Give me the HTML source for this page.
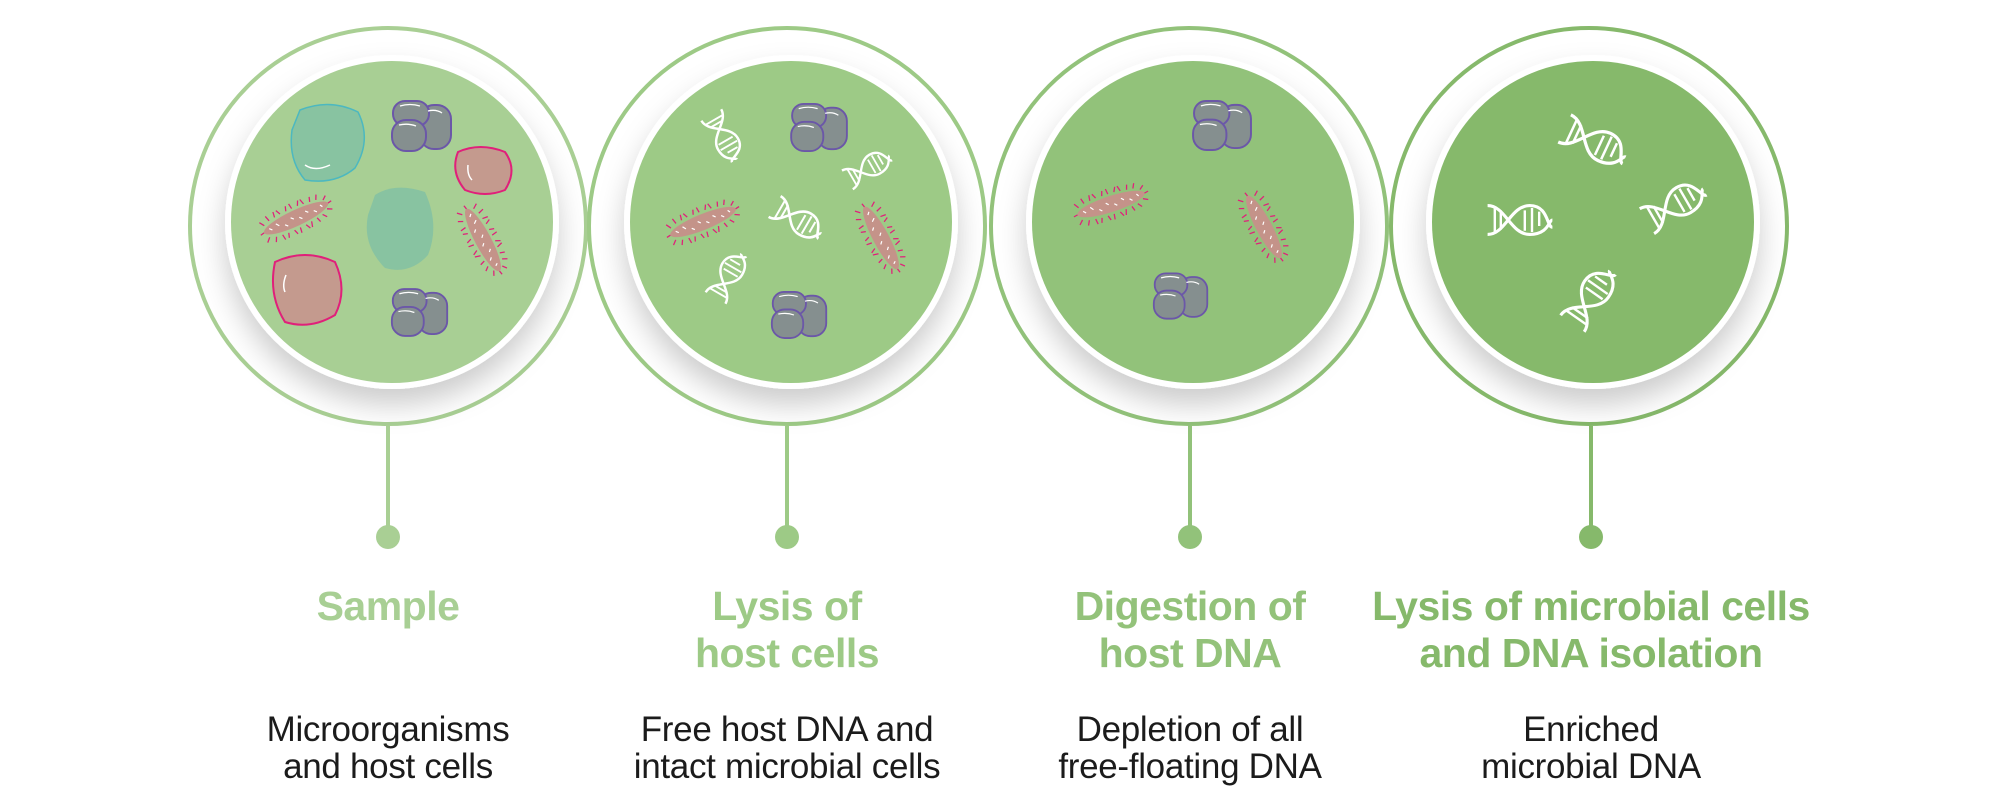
<!DOCTYPE html>
<html><head><meta charset="utf-8"><style>
html,body{margin:0;padding:0;background:#fff;width:2000px;height:800px;overflow:hidden}
.t{position:absolute;width:560px;text-align:center;font-family:"Liberation Sans",sans-serif;}
.h{font-weight:bold;font-size:41px;line-height:47px;top:583px;letter-spacing:-0.5px}
.d{font-size:35px;line-height:37px;top:711px;color:#1b1b1b;letter-spacing:-0.3px}
</style></head><body>
<svg width="2000" height="800" viewBox="0 0 2000 800" style="position:absolute;left:0;top:0">
<defs>
<filter id="sh" x="-30%" y="-30%" width="160%" height="170%"><feDropShadow dx="0" dy="16" stdDeviation="14" flood-color="#000" flood-opacity="0.2"/></filter>
<symbol id="gc" viewBox="0 0 64 54">
<rect x="30" y="6" width="31" height="44" rx="14" fill="#858f8f" stroke="#6b57a8" stroke-width="2"/>
<rect x="3" y="2" width="36" height="25" rx="12" fill="#858f8f" stroke="#6b57a8" stroke-width="2"/>
<rect x="2" y="21" width="34" height="31" rx="14" fill="#858f8f" stroke="#6b57a8" stroke-width="2"/>
<path d="M10 7 Q20 4 30 7 M9 26 Q18 24 26 27 M38 12 Q46 10 52 14" stroke="#fff" stroke-width="1.3" fill="none"/>
</symbol>
<symbol id="rod" viewBox="0 0 100 40">
<ellipse cx="50" cy="20" rx="44" ry="10" fill="#c49389"/>
<path d="M10 12l-4-6M18 9l-2-7M26 8l1-7M34 7l-3-6M42 7l2-6M50 7l-1-7M58 7l3-6M66 8l-2-7M74 9l2-6M82 10l3-6M90 14l5-4M10 28l-5 5M18 31l-3 6M26 32l1 7M34 33l-2 6M42 33l2 6M50 33l-1 7M58 33l3 6M66 32l-2 7M74 31l2 6M82 30l4 5M90 26l6 3M6 20l-5 1M94 20l5-1" stroke="#e0207a" stroke-width="1.6" fill="none"/>
<path d="M14 18l3 3M24 16l3 4M34 22l3 3M44 17l3 3M54 21l3 3M64 17l3 3M74 21l3 3M84 18l2 3" stroke="#fff" stroke-width="1.5"/>
</symbol>
<symbol id="dna" viewBox="0 0 60 40">
<path d="M3 8 C18 8 22 32 38 32 S54 20 57 20 M3 32 C18 32 22 8 38 8 S52 26 57 26" stroke="#fff" stroke-width="2.6" fill="none"/>
<path d="M9 10v20M14 12v16M34 12v17M40 10v20M46 13v12" stroke="#fff" stroke-width="2"/>
</symbol>
</defs>
<g>
<circle cx="388" cy="226" r="198" fill="#fff" stroke="#a9cf94" stroke-width="4"/>
<circle cx="392" cy="222" r="167" fill="#fff" filter="url(#sh)"/>
<circle cx="392" cy="222" r="161" fill="#a8cf94"/>
<line x1="388" y1="426" x2="388" y2="537" stroke="#a9cf94" stroke-width="4"/><circle cx="388" cy="537" r="12" fill="#a9cf94"/>

<circle cx="787" cy="226" r="198" fill="#fff" stroke="#9dca86" stroke-width="4"/>
<circle cx="791" cy="222" r="167" fill="#fff" filter="url(#sh)"/>
<circle cx="791" cy="222" r="161" fill="#9dca86"/>
<line x1="787" y1="426" x2="787" y2="537" stroke="#9dca86" stroke-width="4"/><circle cx="787" cy="537" r="12" fill="#9dca86"/>

<circle cx="1189" cy="226" r="198" fill="#fff" stroke="#92c27a" stroke-width="4"/>
<circle cx="1193" cy="222" r="167" fill="#fff" filter="url(#sh)"/>
<circle cx="1193" cy="222" r="161" fill="#92c27a"/>
<line x1="1190" y1="426" x2="1190" y2="537" stroke="#92c27a" stroke-width="4"/><circle cx="1190" cy="537" r="12" fill="#92c27a"/>

<circle cx="1589" cy="226" r="198" fill="#fff" stroke="#86b96b" stroke-width="4"/>
<circle cx="1593" cy="222" r="167" fill="#fff" filter="url(#sh)"/>
<circle cx="1593" cy="222" r="161" fill="#86b96b"/>
<line x1="1591" y1="426" x2="1591" y2="537" stroke="#86b96b" stroke-width="4"/><circle cx="1591" cy="537" r="12" fill="#86b96b"/>
</g>
<path d="M300 110 Q330 98 358 112 Q372 140 355 168 Q335 185 305 180 Q288 160 292 130 Z" fill="#88c3a1" stroke="#4cb8c0" stroke-width="1.5"/>
<path d="M305 165 Q315 172 330 165" stroke="#fff" stroke-width="1.5" fill="none"/>
<path d="M375 195 Q395 182 425 192 Q440 225 428 255 Q410 275 385 268 Q362 245 368 215 Z" fill="#88c3a1"/>
<path d="M458 152 Q480 142 505 152 Q518 170 505 190 Q485 198 465 190 Q450 172 458 152 Z" fill="#c49a8e" stroke="#e0207a" stroke-width="2"/>
<path d="M468 165 Q467 175 472 180" stroke="#fff" stroke-width="1.5" fill="none"/>
<path d="M275 262 Q305 248 335 262 Q348 290 335 315 Q310 330 285 322 Q268 295 275 262 Z" fill="#c49a8e" stroke="#e0207a" stroke-width="2"/>
<path d="M286 275 Q282 285 285 292" stroke="#fff" stroke-width="1.5" fill="none"/>
<use href="#gc" x="390" y="99" width="64" height="54"/>
<use href="#gc" x="390" y="286" width="60" height="53"/>
<use href="#rod" width="100" height="40" transform="translate(296 218) rotate(-25) translate(-40 -16) scale(0.8)"/>
<use href="#rod" width="100" height="40" transform="translate(483 240) rotate(62) translate(-40 -16) scale(0.8)"/>
<use href="#dna" transform="translate(724 139) rotate(60) translate(-30 -20) scale(0.95)" width="60" height="40"/>
<use href="#gc" x="789" y="102" width="61" height="51"/>
<use href="#dna" transform="translate(872 168) rotate(-30) translate(-30 -20) scale(0.9)" width="60" height="40"/>
<use href="#rod" transform="translate(703 222) rotate(-22) translate(-40 -16) scale(0.8)" width="100" height="40"/>
<use href="#dna" transform="translate(798 220) rotate(30) translate(-30 -20)" width="60" height="40"/>
<use href="#rod" transform="translate(881 238) rotate(62) translate(-40 -16) scale(0.8)" width="100" height="40"/>
<use href="#dna" transform="translate(730 275) rotate(-60) translate(-30 -20) scale(0.95)" width="60" height="40"/>
<use href="#gc" x="770" y="288" width="59" height="54"/>
<use href="#gc" x="1191" y="99" width="63" height="53"/>
<use href="#rod" transform="translate(1111 204) rotate(-18) translate(-40 -16) scale(0.8)" width="100" height="40"/>
<use href="#rod" transform="translate(1264 227) rotate(62) translate(-40 -16) scale(0.8)" width="100" height="40"/>
<use href="#gc" x="1152" y="266" width="58" height="60"/>
<use href="#dna" transform="translate(1596 142) rotate(25) translate(-38 -24) scale(1.25)" width="60" height="40"/>
<use href="#dna" transform="translate(1520 218) translate(-36 -22) scale(1.2)" width="60" height="40"/>
<use href="#dna" transform="translate(1675 205) rotate(-30) translate(-36 -24) scale(1.2)" width="60" height="40"/>
<use href="#dna" transform="translate(1591 297) rotate(-55) translate(-36 -24) scale(1.2)" width="60" height="40"/>
</svg>
<div class="t h" style="left:108px;color:#a8cf94">Sample</div>
<div class="t h" style="left:507px;color:#9dca86">Lysis of<br>host cells</div>
<div class="t h" style="left:910px;color:#93c27a">Digestion of<br>host DNA</div>
<div class="t h" style="left:1311px;color:#86b96b">Lysis of microbial cells<br>and DNA isolation</div>
<div class="t d" style="left:108px">Microorganisms<br>and host cells</div>
<div class="t d" style="left:507px">Free host DNA and<br>intact microbial cells</div>
<div class="t d" style="left:910px">Depletion of all<br>free-floating DNA</div>
<div class="t d" style="left:1311px">Enriched<br>microbial DNA</div>
</body></html>
